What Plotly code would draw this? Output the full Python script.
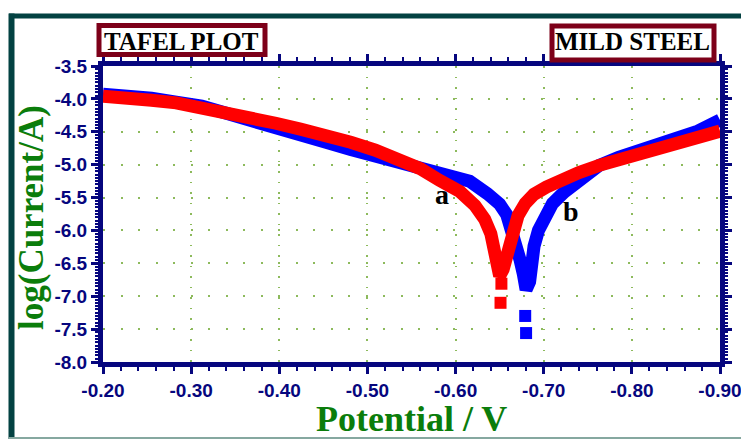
import plotly.graph_objects as go

# ---- data: potential (V) vs log(current/A) ----
red_E = [-0.200, -0.227, -0.255, -0.283, -0.312, -0.340, -0.368, -0.396, -0.424, -0.453,
         -0.481, -0.509, -0.537, -0.560, -0.582, -0.605, -0.622, -0.633, -0.640, -0.644,
         -0.648, -0.650, -0.654, -0.658, -0.661, -0.666, -0.671, -0.679, -0.689, -0.703,
         -0.717, -0.740, -0.763, -0.785, -0.808, -0.830, -0.853, -0.875, -0.900]
red_logI = [-3.96, -3.97, -4.02, -4.06, -4.13, -4.20, -4.29, -4.37, -4.46, -4.55,
            -4.66, -4.78, -4.92, -5.06, -5.24, -5.41, -5.62, -5.83, -6.05, -6.27,
            -6.50, -6.69, -6.59, -6.40, -6.18, -5.97, -5.77, -5.59, -5.45, -5.34,
            -5.25, -5.12, -5.01, -4.92, -4.83, -4.75, -4.67, -4.59, -4.49]
red_tip_E = [-0.652, -0.651]
red_tip_logI = [-6.81, -7.10]

blue_E = [-0.200, -0.227, -0.255, -0.283, -0.312, -0.340, -0.368, -0.396, -0.424, -0.453,
          -0.481, -0.509, -0.537, -0.565, -0.590, -0.616, -0.636, -0.650, -0.658, -0.664,
          -0.669, -0.673, -0.677, -0.680, -0.684, -0.686, -0.689, -0.694, -0.701, -0.710,
          -0.723, -0.740, -0.763, -0.785, -0.808, -0.830, -0.853, -0.875, -0.900]
blue_logI = [-3.93, -3.94, -3.99, -4.05, -4.11, -4.22, -4.34, -4.45, -4.55, -4.66,
             -4.77, -4.87, -4.98, -5.06, -5.12, -5.25, -5.44, -5.60, -5.76, -5.98,
             -6.21, -6.44, -6.67, -6.90, -6.78, -6.52, -6.24, -6.00, -5.77, -5.59,
             -5.42, -5.24, -5.01, -4.89, -4.78, -4.69, -4.60, -4.49, -4.32]
blue_tip_E = [-0.679, -0.680]
blue_tip_logI = [-7.30, -7.56]

x_ticks = [-0.20, -0.30, -0.40, -0.50, -0.60, -0.70, -0.80, -0.90]
x_labels = ["-0.20", "-0.30", "-0.40", "-0.50", "-0.60", "-0.70", "-0.80", "-0.90"]
y_ticks = [-3.5, -4.0, -4.5, -5.0, -5.5, -6.0, -6.5, -7.0, -7.5, -8.0]
y_labels = ["-3.5", "-4.0", "-4.5", "-5.0", "-5.5", "-6.0", "-6.5", "-7.0", "-7.5", "-8.0"]

curve_labels = [("a", -0.585, -5.46), ("b", -0.731, -5.71)]

# ---- layout geometry (pixels) ----
W, H = 741, 439
L, R, T, B = 103, 720, 66, 362


def px(x):
    return (x - L) / (R - L)


def py(y):
    return (B - y) / (B - T)


NAVY = "#06067e"
GREEN = "#0b7d0b"
MAROON = "#7d0019"
FRAME = "#034242"
GRID = "#8dba5c"

fig = go.Figure()
fig.add_trace(go.Scatter(x=blue_E, y=blue_logI, mode="lines",
                         line=dict(color="#0000ff", width=13), hoverinfo="skip"))
fig.add_trace(go.Scatter(x=blue_tip_E, y=blue_tip_logI, mode="markers",
                         marker=dict(symbol="square", size=12, color="#0000ff"), hoverinfo="skip"))
fig.add_trace(go.Scatter(x=red_E, y=red_logI, mode="lines",
                         line=dict(color="#ff0000", width=13), hoverinfo="skip"))
fig.add_trace(go.Scatter(x=red_tip_E, y=red_tip_logI, mode="markers",
                         marker=dict(symbol="square", size=12, color="#ff0000"), hoverinfo="skip"))

xtickfont = dict(family="Liberation Sans, Arial", size=19, color=NAVY, weight="bold")
ytickfont = dict(family="Liberation Sans, Arial", size=19, color=NAVY, weight="bold")

fig.update_layout(
    width=W, height=H, autosize=False, showlegend=False,
    margin=dict(l=L, r=W - R, t=T, b=H - B, pad=0),
    paper_bgcolor="white", plot_bgcolor="white",
    xaxis=dict(range=[-0.20, -0.90], tickvals=x_ticks, ticktext=x_labels, automargin=False,
               ticklabeloverflow="allow",
               ticks="outside", ticklen=7, tickwidth=3, tickcolor=NAVY,
               showline=True, linewidth=5, linecolor=NAVY, mirror="allticks",
               showgrid=True, gridcolor=GRID, gridwidth=1.5, griddash="1.5px,9px",
               zeroline=False, tickfont=xtickfont,
               minor=dict(dtick=0.02, tick0=-0.2, ticks="outside", ticklen=4,
                          tickwidth=2, tickcolor=NAVY, showgrid=False)),
    yaxis=dict(range=[-8.0, -3.5], tickvals=y_ticks, ticktext=y_labels, automargin=False,
               ticks="outside", ticklen=7, tickwidth=3, tickcolor=NAVY,
               showline=True, linewidth=5, linecolor=NAVY, mirror="allticks",
               showgrid=True, gridcolor=GRID, gridwidth=1.5, griddash="2px,15.5px",
               zeroline=False, tickfont=ytickfont,
               minor=dict(dtick=0.05, tick0=-8.0, ticks="outside", ticklen=3,
                          tickwidth=1.5, tickcolor=NAVY, showgrid=False)),
)

serif = "Liberation Serif, Times New Roman, serif"
shapes = [
    dict(type="line", xref="paper", yref="paper", x0=px(9), x1=px(760), y0=py(16), y1=py(16),
         line=dict(color=FRAME, width=5)),
    dict(type="line", xref="paper", yref="paper", x0=px(11.5), x1=px(11.5), y0=py(13.5), y1=py(450),
         line=dict(color=FRAME, width=6)),
    dict(type="line", xref="paper", yref="paper", x0=px(9), x1=px(760), y0=py(438), y1=py(438),
         line=dict(color="#86a8a0", width=2)),
    dict(type="rect", xref="paper", yref="paper", x0=px(99), x1=px(265), y0=py(54.5), y1=py(25.5),
         line=dict(color=MAROON, width=5), fillcolor="white"),
    dict(type="rect", xref="paper", yref="paper", x0=px(552), x1=px(714), y0=py(60), y1=py(26),
         line=dict(color=MAROON, width=5), fillcolor="white"),
]
fig.update_layout(shapes=shapes)

annotations = [
    dict(text="TAFEL PLOT", x=px(181.5), y=py(41), xref="paper", yref="paper",
         showarrow=False, xanchor="center", yanchor="middle",
         font=dict(family=serif, size=25, color="black", weight="bold")),
    dict(text="MILD STEEL", x=px(632), y=py(42), xref="paper", yref="paper",
         showarrow=False, xanchor="center", yanchor="middle",
         font=dict(family=serif, size=25, color="black", weight="bold")),
    dict(text="log(Current/A)", x=px(31), y=py(218), xref="paper", yref="paper",
         showarrow=False, xanchor="center", yanchor="middle", textangle=-90,
         font=dict(family=serif, size=35, color=GREEN, weight="bold")),
    dict(text="Potential / V", x=px(411), y=py(419), xref="paper", yref="paper",
         showarrow=False, xanchor="center", yanchor="middle",
         font=dict(family=serif, size=36, color=GREEN, weight="bold")),
]
for txt, ex, ey in curve_labels:
    annotations.append(dict(text=txt, x=ex, y=ey, xref="x", yref="y", showarrow=False,
                            xanchor="center", yanchor="middle",
                            font=dict(family=serif, size=28, color="black", weight="bold")))
fig.update_layout(annotations=annotations)

fig.write_html("out.html")
